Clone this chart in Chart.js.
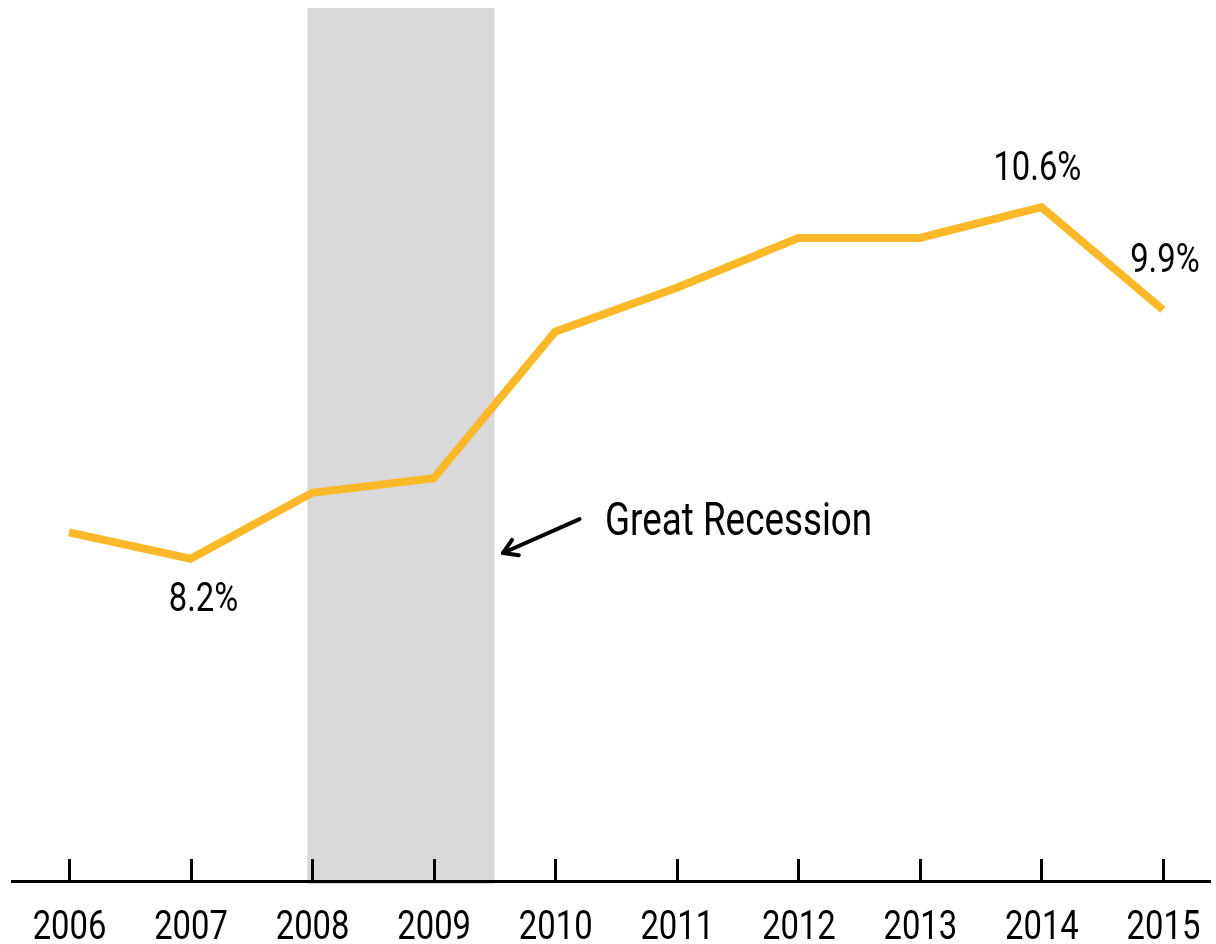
<!DOCTYPE html>
<html>
<head>
<meta charset="utf-8">
<script src="https://cdn.jsdelivr.net/npm/chart.js@4/dist/chart.umd.min.js"></script>
<style>
html,body{margin:0;padding:0;background:#fff;}
#wrap{width:1216px;height:944px;position:relative;}
</style>
</head>
<body>
<div id="wrap"><canvas id="c" width="1216" height="944"></canvas></div>
<script>
const years = [2006, 2007, 2008, 2009, 2010, 2011, 2012, 2013, 2014, 2015];
const values = [8.38, 8.2, 8.65, 8.75, 9.75, 10.05, 10.39, 10.39, 10.6, 9.9];
const tickLabels = ["2006","2007","2008","2009","2010","2011","2012","2013","2014","2015"];
const pointLabels = [
  {year: 2007, value: 8.2, text: "8.2%", dx: 13, dy: 52},
  {year: 2014, value: 10.6, text: "10.6%", dx: -4, dy: -27},
  {year: 2015, value: 9.9, text: "9.9%", dx: 2, dy: -38}
];
const recession = {start: 2007.96, end: 2009.5, label: "Great Recession"};

const FONT = 'Roboto, "Liberation Sans", sans-serif';
const SX = 0.8;

function narrowText(ctx, text, x, y, size, align) {
  ctx.save();
  ctx.font = size + 'px ' + FONT;
  ctx.textBaseline = 'alphabetic';
  ctx.textAlign = align;
  ctx.translate(x, y);
  ctx.scale(SX, 1);
  ctx.fillText(text, 0, 0);
  ctx.restore();
}

const overlay = {
  id: 'overlay',
  beforeDraw(chart) {
    const {ctx, chartArea, scales} = chart;
    const x = scales.x;
    const x0 = x.getPixelForValue(recession.start);
    const x1 = x.getPixelForValue(recession.end);
    ctx.save();
    ctx.fillStyle = '#d9d9d9';
    ctx.fillRect(x0, chartArea.top, x1 - x0, chartArea.bottom - chartArea.top + 3);
    ctx.restore();
  },
  afterDraw(chart) {
    const {ctx, chartArea, scales} = chart;
    const x = scales.x, y = scales.y;
    ctx.save();
    // tick marks above the axis
    ctx.strokeStyle = '#000';
    ctx.lineWidth = 3;
    years.forEach(yr => {
      const px = Math.round(x.getPixelForValue(yr)) + 0.5;
      ctx.beginPath();
      ctx.moveTo(px, chartArea.bottom - 22);
      ctx.lineTo(px, chartArea.bottom);
      ctx.stroke();
    });
    ctx.fillStyle = '#000';
    // x tick labels
    years.forEach((yr, i) => {
      narrowText(ctx, tickLabels[i], x.getPixelForValue(yr) + 0.5, chartArea.bottom + 58, 41, 'center');
    });
    // point labels
    pointLabels.forEach(p => {
      narrowText(ctx, p.text, x.getPixelForValue(p.year) + p.dx, y.getPixelForValue(p.value) + p.dy, 41, 'center');
    });
    // recession annotation
    narrowText(ctx, recession.label, x.getPixelForValue(2010.41), y.getPixelForValue(8.485) + 18, 46, 'left');
    // arrow
    const ax0 = x.getPixelForValue(2010.2), ay0 = y.getPixelForValue(8.471);
    const ax1 = x.getPixelForValue(2009.57), ay1 = y.getPixelForValue(8.239);
    ctx.strokeStyle = '#000';
    ctx.lineWidth = 4;
    ctx.lineCap = 'round';
    ctx.lineJoin = 'round';
    ctx.beginPath();
    ctx.moveTo(ax0, ay0);
    ctx.lineTo(ax1, ay1);
    ctx.stroke();
    const ang = Math.atan2(ay1 - ay0, ax1 - ax0);
    const L = 16, spread = 0.55;
    ctx.beginPath();
    ctx.moveTo(ax1 - L * Math.cos(ang - spread), ay1 - L * Math.sin(ang - spread));
    ctx.lineTo(ax1, ay1);
    ctx.lineTo(ax1 - L * Math.cos(ang + spread), ay1 - L * Math.sin(ang + spread));
    ctx.stroke();
    ctx.restore();
  }
};

new Chart(document.getElementById('c'), {
  type: 'line',
  data: {
    datasets: [{
      data: years.map((yr, i) => ({x: yr, y: values[i]})),
      borderColor: '#FBB829',
      borderWidth: 8,
      pointRadius: 0,
      pointHoverRadius: 0,
      tension: 0,
      fill: false,
      borderJoinStyle: 'miter',
      borderCapStyle: 'butt'
    }]
  },
  options: {
    responsive: false,
    animation: false,
    events: [],
    layout: {padding: {left: 12, right: 6, top: 8, bottom: 0}},
    plugins: {legend: {display: false}, tooltip: {enabled: false}},
    scales: {
      x: {
        type: 'linear',
        min: 2005.531,
        max: 2015.387,
        afterBuildTicks(scale) { scale.ticks = years.map(v => ({value: v})); },
        afterFit(scale) {
          scale.height = 63;
          scale.paddingLeft = 0; scale.paddingRight = 0;
        },
        grid: {display: false, drawTicks: false},
        border: {display: true, color: '#000', width: 3},
        ticks: {display: false}
      },
      y: {
        display: false,
        min: 6,
        max: 11.96
      }
    }
  },
  plugins: [overlay]
});
</script>
</body>
</html>
